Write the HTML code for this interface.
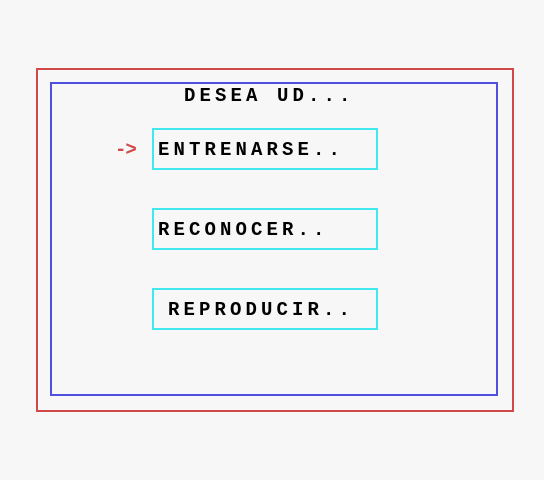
<!DOCTYPE html>
<html><head><style>
body{margin:0;width:544px;height:480px;background:#f7f7f7;position:relative;overflow:hidden}
.b{position:absolute;box-sizing:border-box}
.t{position:absolute;font-family:"Liberation Mono",monospace;font-size:19px;letter-spacing:4.1px;line-height:19px;height:19px;color:#000;white-space:pre;font-weight:bold}
</style></head><body>
<div class="b" style="left:36px;top:68px;width:478px;height:344px;border:2px solid #d04848"></div>
<div class="b" style="left:50px;top:82px;width:448px;height:314px;border:2px solid #5050e0"></div>
<div class="t" style="left:184px;top:87px">DESEA UD...</div>
<div class="b" style="left:152px;top:128px;width:226px;height:42px;border:2px solid #40e8f0"></div>
<div class="b" style="left:152px;top:208px;width:226px;height:42px;border:2px solid #40e8f0"></div>
<div class="b" style="left:152px;top:288px;width:226px;height:42px;border:2px solid #40e8f0"></div>
<div class="t" style="left:115px;top:141px;color:#d04848;letter-spacing:-1px">-&gt;</div>
<div class="t" style="left:158px;top:141px">ENTRENARSE..</div>
<div class="t" style="left:158px;top:221px">RECONOCER..</div>
<div class="t" style="left:168px;top:301px">REPRODUCIR..</div>
</body></html>
